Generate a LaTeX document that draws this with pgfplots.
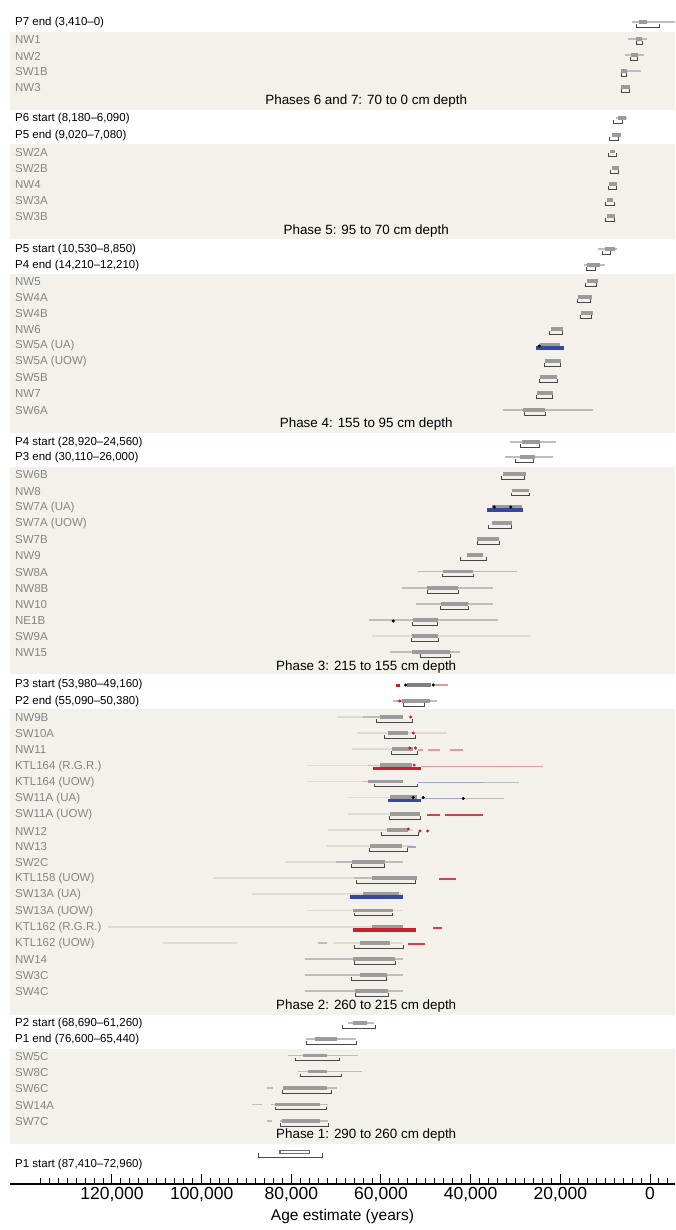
\documentclass[border=0pt]{standalone}
\usepackage{pgfplots}
\pgfplotsset{compat=1.18}
\usepackage{fontspec}
\setmainfont{Liberation Sans}
\definecolor{band}{HTML}{F4F1EA}
\definecolor{labgrey}{HTML}{858585}
\definecolor{spreadc}{HTML}{BDBDBD}
\definecolor{faintc}{HTML}{DDDBD5}
\definecolor{bumpc}{HTML}{9B9B9B}
\definecolor{brackc}{HTML}{474747}
\definecolor{blueb}{HTML}{3647A0}
\definecolor{redb}{HTML}{C81F2D}
\definecolor{lred}{HTML}{E29A9A}
\definecolor{lblue}{HTML}{9CA7D8}
\newcommand{\rl}{\fontsize{11.5}{12}\selectfont}
\newcommand{\pl}{\fontsize{13.4}{14}\selectfont}
\begin{document}
\begin{tikzpicture}
\begin{axis}[
  at={(10pt,0pt)}, anchor=north west,
  scale only axis, width=665pt, height=1184pt,
  xmin=-5576, xmax=142750, ymin=-1184, ymax=0,
  x dir=reverse,
  axis x line*=bottom, axis y line=none,
  x axis line style={-, line width=1.6pt},
  xtick={0,20000,...,120000},
  minor xtick={-4000,-2000,...,136000},
  tick align=inside,
  major tick length=10pt, minor tick length=6pt,
  tick style={black, line width=1pt},
  scaled x ticks=false,
  xticklabel style={font=\fontsize{17.5}{18}\selectfont, /pgf/number format/.cd, fixed, 1000 sep={,}, assume math mode=true},
  xlabel={Age estimate (years)},
  xlabel style={font=\fontsize{15.5}{16}\selectfont},
  unbounded coords=jump,
]
% phase bands
\fill[band] (axis cs:142750,-32) rectangle (axis cs:-5576,-110);
\fill[band] (axis cs:142750,-144) rectangle (axis cs:-5576,-239);
\fill[band] (axis cs:142750,-274) rectangle (axis cs:-5576,-433);
\fill[band] (axis cs:142750,-467) rectangle (axis cs:-5576,-674);
\fill[band] (axis cs:142750,-709) rectangle (axis cs:-5576,-1015);
\fill[band] (axis cs:142750,-1049) rectangle (axis cs:-5576,-1144);

% faint likelihood tails
\addplot[faintc, line width=1.4pt] coordinates {
(62070,-636)(26610,-636)(nan,nan)
(69880,-717)(55030,-717)(nan,nan)
(65420,-733)(45350,-733)(nan,nan)
(66540,-749)(52800,-749)(nan,nan)
(76570,-765.5)(55030,-765.5)(nan,nan)
(76570,-781.5)(55030,-781.5)(nan,nan)
(67290,-797.5)(55030,-797.5)(nan,nan)
(67290,-814)(52800,-814)(nan,nan)
(71760,-830)(52800,-830)(nan,nan)
(72110,-846)(52800,-846)(nan,nan)
(81410,-862)(55030,-862)(nan,nan)
(97470,-878)(52040,-878)(nan,nan)
(88840,-894)(55030,-894)(nan,nan)
(76570,-910.5)(55380,-910.5)(nan,nan)
(120890,-927)(55030,-927)(nan,nan)
(108630,-943)(92120,-943)(nan,nan)
(70710,-943)(55090,-943)
};
% likelihood spreads
\addplot[spreadc, line width=1.4pt] coordinates {
(4015,-22)(-5576,-22)(nan,nan)
(4970,-39)(740,-39)(nan,nan)
(5580,-55)(1340,-55)(nan,nan)
(6470,-71)(2010,-71)(nan,nan)
(7580,-118)(5130,-118)(nan,nan)
(11670,-249)(7430,-249)(nan,nan)
(14720,-265)(10040,-265)(nan,nan)
(32720,-410)(12780,-410)(nan,nan)
(31230,-442)(20970,-442)(nan,nan)
(32340,-457)(21700,-457)(nan,nan)
(51680,-571.5)(29600,-571.5)(nan,nan)
(55380,-588)(34950,-588)(nan,nan)
(52190,-604)(34950,-604)(nan,nan)
(62610,-620)(33840,-620)(nan,nan)
(57990,-652)(42380,-652)(nan,nan)
(57260,-701)(47580,-701)(nan,nan)
(64000,-717)(55030,-717)(nan,nan)
(63000,-765.5)(55030,-765.5)(nan,nan)
(64000,-781.5)(55030,-781.5)(nan,nan)
(37000,-782.5)(29330,-782.5)(nan,nan)
(41640,-798.5)(32570,-798.5)(nan,nan)
(70000,-862)(55030,-862)(nan,nan)
(66000,-878)(52040,-878)(nan,nan)
(74050,-943)(72050,-943)(nan,nan)
(76950,-959)(55030,-959)(nan,nan)
(76950,-975)(55030,-975)(nan,nan)
(76950,-991)(55030,-991)(nan,nan)
(67290,-1023)(61500,-1023)(nan,nan)
(76800,-1039)(65580,-1039)(nan,nan)
(80680,-1055.5)(65060,-1055.5)(nan,nan)
(78450,-1071.5)(64310,-1071.5)(nan,nan)
(85360,-1088)(84000,-1088)(nan,nan)
(81930,-1088)(69880,-1088)(nan,nan)
(88840,-1104.5)(86500,-1104.5)(nan,nan)
(84500,-1104.5)(71760,-1104.5)(nan,nan)
(85360,-1121)(84200,-1121)(nan,nan)
(82530,-1121)(71760,-1121)
};
% light coloured tails
\addplot[lred, line width=1.8pt] coordinates {
(51150,-766.5)(23870,-766.5)(nan,nan)
(51750,-750)(50630,-750)(nan,nan)
(49520,-750)(46840,-750)(nan,nan)
(44610,-750)(41640,-750)(nan,nan)
(56650,-685)(55760,-685)(nan,nan)
(47960,-685)(45120,-685)(nan,nan)
(56500,-701)(55300,-701)(nan,nan)
(50800,-701)(49300,-701)
};
\addplot[lblue, line width=1.8pt] coordinates {
(51820,-782.5)(37000,-782.5)(nan,nan)
(51080,-798.5)(41640,-798.5)(nan,nan)
(54130,-847)(52300,-847)
};
% posterior bumps
\addplot[bumpc, line width=3.2pt] coordinates {
(2454,-22)(669,-22)(nan,nan)
(3120,-39)(1780,-39)(nan,nan)
(4240,-55)(2680,-55)(nan,nan)
(6360,-71)(5130,-71)(nan,nan)
(6540,-87)(4460,-87)(nan,nan)
(7140,-118)(5350,-118)(nan,nan)
(8480,-135)(6470,-135)(nan,nan)
(8920,-151.5)(7810,-151.5)(nan,nan)
(8480,-168)(6910,-168)(nan,nan)
(9150,-184)(7360,-184)(nan,nan)
(9590,-200)(8250,-200)(nan,nan)
(9590,-216)(7810,-216)(nan,nan)
(10040,-249)(7810,-249)(nan,nan)
(14050,-265)(11150,-265)(nan,nan)
(14050,-281)(11600,-281)(nan,nan)
(16060,-297)(12940,-297)(nan,nan)
(15390,-313)(12780,-313)(nan,nan)
(22080,-329)(19470,-329)(nan,nan)
(24540,-345)(20070,-345)(nan,nan)
(23420,-361)(19920,-361)(nan,nan)
(24540,-377)(20740,-377)(nan,nan)
(25200,-393)(21700,-393)(nan,nan)
(28260,-410)(23420,-410)(nan,nan)
(28620,-442)(24540,-442)(nan,nan)
(29000,-457)(25650,-457)(nan,nan)
(32720,-474)(27730,-474)(nan,nan)
(30780,-490.5)(26920,-490.5)(nan,nan)
(35240,-507)(28550,-507)(nan,nan)
(35310,-523)(30850,-523)(nan,nan)
(38520,-539)(33610,-539)(nan,nan)
(40890,-555)(37180,-555)(nan,nan)
(46170,-571.5)(39410,-571.5)(nan,nan)
(49670,-588)(42760,-588)(nan,nan)
(46680,-604)(40530,-604)(nan,nan)
(52930,-620)(47220,-620)(nan,nan)
(53150,-636)(47220,-636)(nan,nan)
(53150,-652)(44610,-652)(nan,nan)
(55380,-701)(49070,-701)(nan,nan)
(60220,-717)(55030,-717)(nan,nan)
(58440,-733)(53980,-733)(nan,nan)
(57610,-749)(52800,-749)(nan,nan)
(60220,-765)(53000,-765)(nan,nan)
(62830,-781.5)(55030,-781.5)(nan,nan)
(58000,-797)(52000,-797)(nan,nan)
(57990,-814)(51300,-814)(nan,nan)
(58730,-830)(53910,-830)(nan,nan)
(62450,-846)(55380,-846)(nan,nan)
(66540,-862)(59110,-862)(nan,nan)
(62080,-878)(52040,-878)(nan,nan)
(64000,-893.5)(56000,-893.5)(nan,nan)
(66180,-910.5)(57260,-910.5)(nan,nan)
(62000,-926.5)(55030,-926.5)(nan,nan)
(64680,-943)(57990,-943)(nan,nan)
(66180,-959)(56880,-959)(nan,nan)
(64680,-975)(58660,-975)(nan,nan)
(65800,-991)(58440,-991)(nan,nan)
(66250,-1023)(63120,-1023)(nan,nan)
(74720,-1039)(69810,-1039)(nan,nan)
(77400,-1055.5)(72050,-1055.5)(nan,nan)
(76280,-1071.5)(72050,-1071.5)(nan,nan)
(81860,-1088)(72050,-1088)(nan,nan)
(83640,-1104.5)(73610,-1104.5)(nan,nan)
(82080,-1121)(73610,-1121)
};
% P3 start grey bar
\addplot[black!50, line width=4pt] coordinates {(54130,-685)(48920,-685)};
\addplot[redb, line width=3pt] coordinates {(56650,-685)(55760,-685)};
% P1 start hollow bar
\addplot[brackc!80, line width=3.6pt] coordinates {(82690,-1152)(75840,-1152)};
\addplot[white, line width=1.6pt] coordinates {(82400,-1152)(76100,-1152)};
% coloured thick bars
\addplot[blueb, line width=3.6pt] coordinates {
(25500,-348)(19120,-348)(nan,nan)
(36290,-510)(28400,-510)(nan,nan)
(58370,-800.5)(51080,-800.5)(nan,nan)
(66920,-897)(55030,-897)
};
\addplot[redb, line width=3.6pt] coordinates {
(61720,-768.5)(51150,-768.5)(nan,nan)
(66180,-930)(52190,-930)
};
\addplot[redb!85, line width=2.6pt] coordinates {
(49810,-815)(46840,-815)(nan,nan)
(45730,-815)(37320,-815)(nan,nan)
(48400,-928)(46460,-928)(nan,nan)
(47060,-879)(43270,-879)(nan,nan)
(53980,-944)(50190,-944)
};
% brackets (95.4% ranges)
\addplot[brackc, line width=0.8pt] coordinates {
(3120,-24)(3120,-27)(-2010,-27)(-2010,-24)(nan,nan)
(3010,-41)(3010,-44)(1780,-44)(1780,-41)(nan,nan)
(4460,-57)(4460,-60)(2900,-60)(2900,-57)(nan,nan)
(6400,-73)(6400,-76)(5200,-76)(5200,-73)(nan,nan)
(6470,-89)(6470,-92)(4680,-92)(4680,-89)(nan,nan)
(8180,-120)(8180,-123)(6090,-123)(6090,-120)(nan,nan)
(9020,-137)(9020,-140)(7080,-140)(7080,-137)(nan,nan)
(9370,-153.5)(9370,-156.5)(7520,-156.5)(7520,-153.5)(nan,nan)
(8920,-170)(8920,-173)(7070,-173)(7070,-170)(nan,nan)
(9300,-186)(9300,-189)(7430,-189)(7430,-186)(nan,nan)
(9880,-202)(9880,-205)(8030,-205)(8030,-202)(nan,nan)
(10040,-218)(10040,-221)(8030,-221)(8030,-218)(nan,nan)
(10530,-251)(10530,-254)(8850,-254)(8850,-251)(nan,nan)
(14210,-267)(14210,-270)(12210,-270)(12210,-267)(nan,nan)
(14500,-283)(14500,-286)(12040,-286)(12040,-283)(nan,nan)
(16220,-299)(16220,-302)(13230,-302)(13230,-299)(nan,nan)
(15610,-315)(15610,-318)(13160,-318)(13160,-315)(nan,nan)
(22460,-331)(22460,-334)(19470,-334)(19470,-331)(nan,nan)
(23640,-363)(23640,-366)(19920,-366)(19920,-363)(nan,nan)
(24690,-379)(24690,-382)(20590,-382)(20590,-379)(nan,nan)
(25270,-395)(25270,-398)(21700,-398)(21700,-395)(nan,nan)
(28040,-412)(28040,-415)(23420,-415)(23420,-412)(nan,nan)
(28920,-444)(28920,-447)(24560,-447)(24560,-444)(nan,nan)
(30110,-459)(30110,-462)(26000,-462)(26000,-459)(nan,nan)
(33080,-476)(33080,-479)(28100,-479)(28100,-476)(nan,nan)
(31000,-492.5)(31000,-495.5)(26920,-495.5)(26920,-492.5)(nan,nan)
(36070,-525)(36070,-528)(30850,-528)(30850,-525)(nan,nan)
(38430,-541)(38430,-544)(33610,-544)(33610,-541)(nan,nan)
(42220,-557)(42220,-560)(36420,-560)(36420,-557)(nan,nan)
(46240,-573.5)(46240,-576.5)(39410,-576.5)(39410,-573.5)(nan,nan)
(49670,-590)(49670,-593)(42760,-593)(42760,-590)(nan,nan)
(46840,-606)(46840,-609)(40530,-609)(40530,-606)(nan,nan)
(52930,-622)(52930,-625)(47330,-625)(47330,-622)(nan,nan)
(53150,-638)(53150,-641)(47220,-641)(47220,-638)(nan,nan)
(51300,-654)(51300,-657)(44610,-657)(44610,-654)(nan,nan)
(55090,-703)(55090,-706)(50380,-706)(50380,-703)(nan,nan)
(61120,-719)(61120,-722)(53020,-722)(53020,-719)(nan,nan)
(59270,-735)(59270,-738)(52420,-738)(52420,-735)(nan,nan)
(57610,-751)(57610,-754)(51820,-754)(51820,-751)(nan,nan)
(61560,-783.5)(61560,-786.5)(51820,-786.5)(51820,-783.5)(nan,nan)
(58150,-816)(58150,-819)(51150,-819)(51150,-816)(nan,nan)
(59850,-832)(59850,-835)(51590,-835)(51590,-832)(nan,nan)
(62680,-848)(62680,-851)(54130,-851)(54130,-848)(nan,nan)
(66690,-864)(66690,-867)(59270,-867)(59270,-864)(nan,nan)
(65420,-880)(65420,-883)(52420,-883)(52420,-880)(nan,nan)
(66020,-912.5)(66020,-915.5)(57390,-915.5)(57390,-912.5)(nan,nan)
(66020,-945)(66020,-948)(55030,-948)(55030,-945)(nan,nan)
(66020,-961)(66020,-964)(56880,-964)(56880,-961)(nan,nan)
(66540,-977)(66540,-980)(58730,-980)(58730,-977)(nan,nan)
(65800,-993)(65800,-996)(58440,-996)(58440,-993)(nan,nan)
(68690,-1025)(68690,-1028)(61260,-1028)(61260,-1025)(nan,nan)
(76600,-1041)(76600,-1044)(65440,-1044)(65440,-1041)(nan,nan)
(79030,-1057.5)(79030,-1060.5)(69370,-1060.5)(69370,-1057.5)(nan,nan)
(77910,-1073.5)(77910,-1076.5)(68770,-1076.5)(68770,-1073.5)(nan,nan)
(81930,-1090)(81930,-1093)(71000,-1093)(71000,-1090)(nan,nan)
(83640,-1106.5)(83640,-1109.5)(72110,-1109.5)(72110,-1106.5)(nan,nan)
(82530,-1123)(82530,-1126)(71760,-1126)(71760,-1123)(nan,nan)
(87410,-1153)(87410,-1157)(72960,-1157)(72960,-1153)
};
% black and red dots
\addplot[only marks, mark=*, mark size=1.3pt, black] coordinates {
(24690,-346)(34730,-507)(31070,-507)(57260,-621)(54490,-685)(48340,-685)
(52800,-797.5)(50570,-797.5)(41640,-798.5)};
\addplot[only marks, mark=*, mark size=1.3pt, redb] coordinates {
(53380,-717)(52790,-733)(53600,-748)(52300,-748)(53910,-829)(51300,-831)(49600,-831)(55800,-701)(52600,-765)};

% labels
\begin{scope}[every node/.style={anchor=west, inner sep=0pt, font=\rl}]
\node at (axis cs:141640,-23) {P7 end (3,410–0)};
\node[labgrey] at (axis cs:141640,-40) {NW1};
\node[labgrey] at (axis cs:141640,-56) {NW2};
\node[labgrey] at (axis cs:141640,-72) {SW1B};
\node[labgrey] at (axis cs:141640,-88) {NW3};
\node at (axis cs:141640,-119) {P6 start (8,180–6,090)};
\node at (axis cs:141640,-136) {P5 end (9,020–7,080)};
\node[labgrey] at (axis cs:141640,-152.5) {SW2A};
\node[labgrey] at (axis cs:141640,-169) {SW2B};
\node[labgrey] at (axis cs:141640,-185) {NW4};
\node[labgrey] at (axis cs:141640,-201) {SW3A};
\node[labgrey] at (axis cs:141640,-217) {SW3B};
\node at (axis cs:141640,-250) {P5 start (10,530–8,850)};
\node at (axis cs:141640,-266) {P4 end (14,210–12,210)};
\node[labgrey] at (axis cs:141640,-282) {NW5};
\node[labgrey] at (axis cs:141640,-298) {SW4A};
\node[labgrey] at (axis cs:141640,-314) {SW4B};
\node[labgrey] at (axis cs:141640,-330) {NW6};
\node[labgrey] at (axis cs:141640,-346) {SW5A (UA)};
\node[labgrey] at (axis cs:141640,-362) {SW5A (UOW)};
\node[labgrey] at (axis cs:141640,-378) {SW5B};
\node[labgrey] at (axis cs:141640,-394) {NW7};
\node[labgrey] at (axis cs:141640,-411) {SW6A};
\node at (axis cs:141640,-443) {P4 start (28,920–24,560)};
\node at (axis cs:141640,-458) {P3 end (30,110–26,000)};
\node[labgrey] at (axis cs:141640,-475) {SW6B};
\node[labgrey] at (axis cs:141640,-491.5) {NW8};
\node[labgrey] at (axis cs:141640,-508) {SW7A (UA)};
\node[labgrey] at (axis cs:141640,-524) {SW7A (UOW)};
\node[labgrey] at (axis cs:141640,-540) {SW7B};
\node[labgrey] at (axis cs:141640,-556) {NW9};
\node[labgrey] at (axis cs:141640,-572.5) {SW8A};
\node[labgrey] at (axis cs:141640,-589) {NW8B};
\node[labgrey] at (axis cs:141640,-605) {NW10};
\node[labgrey] at (axis cs:141640,-621) {NE1B};
\node[labgrey] at (axis cs:141640,-637) {SW9A};
\node[labgrey] at (axis cs:141640,-653) {NW15};
\node at (axis cs:141640,-685) {P3 start (53,980–49,160)};
\node at (axis cs:141640,-702) {P2 end (55,090–50,380)};
\node[labgrey] at (axis cs:141640,-718) {NW9B};
\node[labgrey] at (axis cs:141640,-734) {SW10A};
\node[labgrey] at (axis cs:141640,-750) {NW11};
\node[labgrey] at (axis cs:141640,-766.5) {KTL164 (R.G.R.)};
\node[labgrey] at (axis cs:141640,-782.5) {KTL164 (UOW)};
\node[labgrey] at (axis cs:141640,-798.5) {SW11A (UA)};
\node[labgrey] at (axis cs:141640,-815) {SW11A (UOW)};
\node[labgrey] at (axis cs:141640,-831) {NW12};
\node[labgrey] at (axis cs:141640,-847) {NW13};
\node[labgrey] at (axis cs:141640,-863) {SW2C};
\node[labgrey] at (axis cs:141640,-879) {KTL158 (UOW)};
\node[labgrey] at (axis cs:141640,-895) {SW13A (UA)};
\node[labgrey] at (axis cs:141640,-911.5) {SW13A (UOW)};
\node[labgrey] at (axis cs:141640,-928) {KTL162 (R.G.R.)};
\node[labgrey] at (axis cs:141640,-944) {KTL162 (UOW)};
\node[labgrey] at (axis cs:141640,-960) {NW14};
\node[labgrey] at (axis cs:141640,-976) {SW3C};
\node[labgrey] at (axis cs:141640,-992) {SW4C};
\node at (axis cs:141640,-1024) {P2 start (68,690–61,260)};
\node at (axis cs:141640,-1040) {P1 end (76,600–65,440)};
\node[labgrey] at (axis cs:141640,-1056.5) {SW5C};
\node[labgrey] at (axis cs:141640,-1072.5) {SW8C};
\node[labgrey] at (axis cs:141640,-1089) {SW6C};
\node[labgrey] at (axis cs:141640,-1105.5) {SW14A};
\node[labgrey] at (axis cs:141640,-1122) {SW7C};
\node at (axis cs:141640,-1165) {P1 start (87,410–72,960)};
\end{scope}
\begin{scope}[every node/.style={inner sep=0pt, font=\pl}]
\node at (axis cs:63300,-101.5) {Phases 6 and 7: 70 to 0 cm depth};
\node at (axis cs:63300,-231) {Phase 5: 95 to 70 cm depth};
\node at (axis cs:63300,-424.3) {Phase 4: 155 to 95 cm depth};
\node at (axis cs:63300,-666.7) {Phase 3: 215 to 155 cm depth};
\node at (axis cs:63300,-1005.7) {Phase 2: 260 to 215 cm depth};
\node at (axis cs:63300,-1135) {Phase 1: 290 to 260 cm depth};
\end{scope}
\end{axis}
\pgfresetboundingbox
\path[use as bounding box] (0,0) rectangle (675pt,-1230pt);
\end{tikzpicture}
\end{document}
